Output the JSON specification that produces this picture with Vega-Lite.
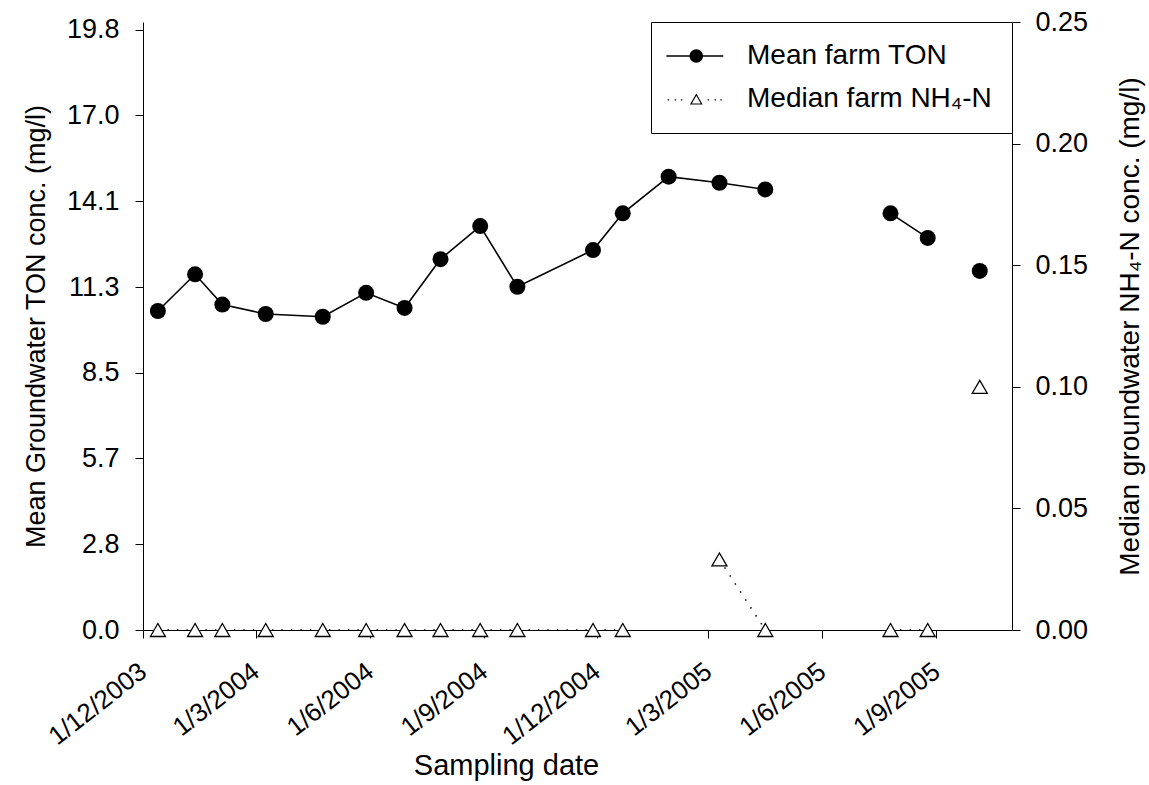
{
  "$schema": "https://vega.github.io/schema/vega-lite/v6.json",
  "width": 869,
  "height": 608,
  "autosize": {"type": "none"},
  "padding": {"left": 143, "top": 22, "right": 137, "bottom": 155},
  "background": "white",
  "config": {
    "view": {"stroke": null},
    "font": "Liberation Sans",
    "axis": {
      "domainColor": "black", "tickColor": "black", "labelColor": "black", "titleColor": "black",
      "labelFont": "Liberation Sans", "titleFont": "Liberation Sans",
      "labelFontSize": 27, "titleFontSize": 27, "titleFontWeight": "normal",
      "tickSize": 8, "tickWidth": 1, "domainWidth": 1, "grid": false,
      "labelOverlap": false, "labelBound": false, "labelFlush": false
    }
  },
  "data": {
    "values": [
      {"date": "2003-12-13", "ton": 10.52, "nh4": 0, "seg": 1},
      {"date": "2004-01-12", "ton": 11.73, "nh4": 0, "seg": 1},
      {"date": "2004-02-03", "ton": 10.73, "nh4": 0, "seg": 1},
      {"date": "2004-03-09", "ton": 10.42, "nh4": 0, "seg": 1},
      {"date": "2004-04-24", "ton": 10.33, "nh4": 0, "seg": 1},
      {"date": "2004-05-29", "ton": 11.12, "nh4": 0, "seg": 1},
      {"date": "2004-06-29", "ton": 10.62, "nh4": 0, "seg": 1},
      {"date": "2004-07-28", "ton": 12.23, "nh4": 0, "seg": 1},
      {"date": "2004-08-29", "ton": 13.32, "nh4": 0, "seg": 1},
      {"date": "2004-09-28", "ton": 11.32, "nh4": 0, "seg": 1},
      {"date": "2004-11-28", "ton": 12.53, "nh4": 0, "seg": 1},
      {"date": "2004-12-22", "ton": 13.74, "nh4": 0, "seg": 1},
      {"date": "2005-01-28", "ton": 14.95, "nh4": null, "seg": 1},
      {"date": "2005-03-10", "ton": 14.75, "nh4": 0.029, "seg": 1},
      {"date": "2005-04-16", "ton": 14.53, "nh4": 0, "seg": 1},
      {"date": "2005-07-26", "ton": 13.74, "nh4": 0, "seg": 2},
      {"date": "2005-08-25", "ton": 12.93, "nh4": 0, "seg": 2},
      {"date": "2005-10-06", "ton": 11.84, "nh4": 0.10, "seg": 3}
    ],
    "format": {"parse": {"date": "date:'%Y-%m-%d'"}}
  },
  "encoding": {
    "x": {
      "field": "date", "type": "temporal",
      "scale": {"domain": [{"year": 2003, "month": 12, "date": 1}, {"year": 2005, "month": 11, "date": 1}], "nice": false},
      "axis": {
        "orient": "bottom",
        "values": [
          {"year": 2003, "month": 12, "date": 1},
          {"year": 2004, "month": 3, "date": 1},
          {"year": 2004, "month": 6, "date": 1},
          {"year": 2004, "month": 9, "date": 1},
          {"year": 2004, "month": 12, "date": 1},
          {"year": 2005, "month": 3, "date": 1},
          {"year": 2005, "month": 6, "date": 1},
          {"year": 2005, "month": 9, "date": 1}
        ],
        "format": "%-d/%-m/%Y",
        "labelFontSize": 26,
        "labelAngle": -38, "labelAlign": "right", "labelBaseline": "middle", "labelPadding": 30, "labelOffset": 0,
        "title": "Sampling date", "titleFontSize": 29, "titleX": 363, "titleY": 144, "titleAlign": "center", "titleBaseline": "alphabetic"
      }
    }
  },
  "layer": [
    {
      "encoding": {
        "y": {
          "field": "ton", "type": "quantitative",
          "scale": {"domain": [0, 20.05], "nice": false, "zero": true},
          "axis": {
            "orient": "left",
            "values": [0, 2.83, 5.66, 8.49, 11.31, 14.14, 16.97, 19.8],
            "format": ".1f", "labelPadding": 16,
            "title": "Mean Groundwater TON conc. (mg/l)",
            "titleAngle": 270, "titleX": -99, "titleY": 304, "titleAlign": "center", "titleBaseline": "alphabetic"
          }
        }
      },
      "layer": [
        {"mark": {"type": "line", "color": "black", "strokeWidth": 1.6}, "encoding": {"detail": {"field": "seg"}}},
        {"mark": {"type": "point", "shape": "circle", "filled": true, "color": "black", "size": 256, "opacity": 1}}
      ]
    },
    {
      "encoding": {
        "y": {
          "field": "nh4", "type": "quantitative",
          "scale": {"domain": [0, 0.25], "nice": false, "zero": true},
          "axis": {
            "orient": "right",
            "values": [0, 0.05, 0.1, 0.15, 0.2, 0.25],
            "format": ".2f", "labelPadding": 15,
            "title": "Median groundwater NH₄-N conc. (mg/l)", "titleFontSize": 28,
            "titleAngle": 270, "titleX": 126, "titleY": 304, "titleAlign": "center", "titleBaseline": "alphabetic"
          }
        }
      },
      "layer": [
        {"mark": {"type": "line", "color": "black", "strokeWidth": 1.5, "strokeDash": [1.5, 8], "invalid": "break-paths-filter-domains"}, "encoding": {"detail": {"field": "seg"}}},
        {"mark": {"type": "point", "shape": "triangle-up", "filled": false, "fill": "white", "stroke": "black", "strokeWidth": 1.3, "size": 225, "opacity": 1}}
      ]
    },
    {
      "transform": [{"filter": "false"}],
      "mark": {"type": "point", "filled": true, "color": "black", "size": 240},
      "encoding": {
        "shape": {
          "field": "series", "type": "nominal",
          "scale": {
            "domain": ["Mean farm TON", "Median farm NH₄-N"],
            "range": [
              "M-2.41,-0.09H4.94V0.09H-2.41Z M2.33,0A0.87,0.87,0,1,1,0.59,0A0.87,0.87,0,1,1,2.33,0Z",
              "M1.46,-0.71L2.28,0.71L0.64,0.71Z M1.46,-0.43L0.883,0.57L2.037,0.57Z M-2.23,0.02h0.18v0.18h-0.18Z M-1.33,0.02h0.18v0.18h-0.18Z M-0.53,0.02h0.18v0.18h-0.18Z M2.92,0.02h0.18v0.18h-0.18Z M3.82,0.02h0.18v0.18h-0.18Z M4.57,0.02h0.18v0.18h-0.18Z"
            ]
          },
          "legend": {
            "title": null, "orient": "top-right", "offset": 0, "padding": 20,
            "strokeColor": "black", "fillColor": "white",
            "labelFont": "Liberation Sans", "labelFontSize": 28, "labelColor": "black", "labelLimit": 500,
            "labelOffset": 48, "rowPadding": 15, "symbolSize": 240,
            "symbolFillColor": "black", "symbolStrokeColor": "black", "symbolStrokeWidth": 0, "symbolOpacity": 1
          }
        }
      }
    }
  ],
  "resolve": {"scale": {"y": "independent"}}
}
